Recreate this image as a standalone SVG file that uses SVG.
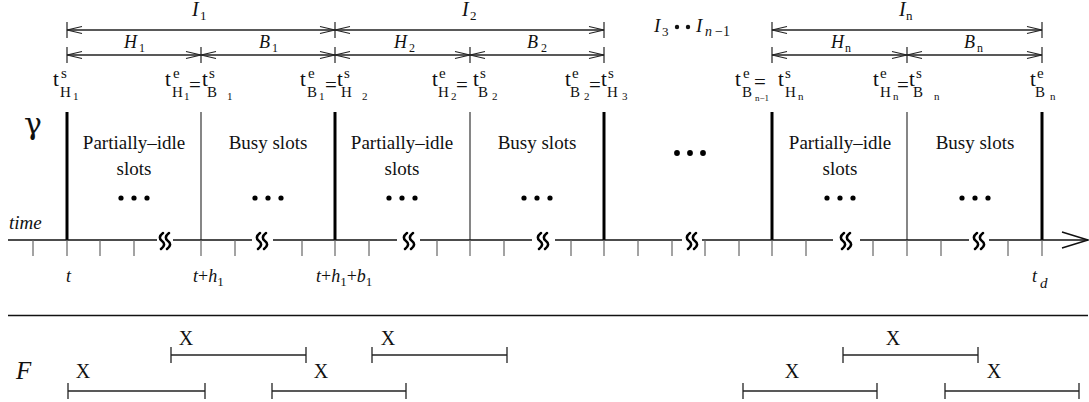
<svg xmlns="http://www.w3.org/2000/svg" width="1089" height="402" viewBox="0 0 1089 402">
<style>
.s{font-family:"Liberation Serif","Times New Roman",serif;fill:#111}
.it{font-style:italic}
.t{font-size:21px}
.sp{font-size:15px}
.sb{font-size:11px}
.lab{font-size:19px;text-anchor:middle}
.dim{stroke:#222;stroke-width:1.3;fill:none}
.tick{stroke:#222;stroke-width:1.2}
.axt{stroke:#666;stroke-width:1.2}
.thick{stroke:#000;stroke-width:3}
.thin{stroke:#444;stroke-width:1.3}
.iv{stroke:#222;stroke-width:1.3}
</style>
<defs>
<marker id="ah" viewBox="-16 -5 17 10" refX="0" refY="0" markerWidth="17" markerHeight="10" markerUnits="userSpaceOnUse" orient="auto-start-reverse">
<path d="M-15,-3.5 L0,0 L-15,3.5" fill="none" stroke="#222" stroke-width="1.1"/>
</marker>
<g id="brk" fill="none" stroke="#000" stroke-width="2.6" stroke-linecap="round">
<path d="M-2,-8 C-6,-5 -6,-2 -3,0 C0,2 0,5 -4,8"/>
<path d="M4,-8 C0,-5 0,-2 3,0 C6,2 6,5 2,8"/>
</g>
</defs>
<rect width="1089" height="402" fill="#fff"/>

<!-- connectors: dimension arrows -->
<g id="connectors">
<line class="dim" x1="67" y1="30" x2="335" y2="30" marker-start="url(#ah)" marker-end="url(#ah)"/>
<line class="dim" x1="335" y1="30" x2="604" y2="30" marker-start="url(#ah)" marker-end="url(#ah)"/>
<line class="dim" x1="772" y1="30" x2="1042" y2="30" marker-start="url(#ah)" marker-end="url(#ah)"/>
<line class="dim" x1="67" y1="55" x2="201" y2="55" marker-start="url(#ah)" marker-end="url(#ah)"/>
<line class="dim" x1="201" y1="55" x2="335" y2="55" marker-start="url(#ah)" marker-end="url(#ah)"/>
<line class="dim" x1="335" y1="55" x2="470" y2="55" marker-start="url(#ah)" marker-end="url(#ah)"/>
<line class="dim" x1="470" y1="55" x2="604" y2="55" marker-start="url(#ah)" marker-end="url(#ah)"/>
<line class="dim" x1="772" y1="55" x2="907" y2="55" marker-start="url(#ah)" marker-end="url(#ah)"/>
<line class="dim" x1="907" y1="55" x2="1042" y2="55" marker-start="url(#ah)" marker-end="url(#ah)"/>
<g class="tick">
<line x1="67" y1="22" x2="67" y2="38"/><line x1="335" y1="22" x2="335" y2="38"/><line x1="604" y1="22" x2="604" y2="38"/><line x1="772" y1="22" x2="772" y2="38"/><line x1="1042" y1="22" x2="1042" y2="38"/>
<line x1="67" y1="47" x2="67" y2="63"/><line x1="201" y1="47" x2="201" y2="63"/><line x1="335" y1="47" x2="335" y2="63"/><line x1="470" y1="47" x2="470" y2="63"/><line x1="604" y1="47" x2="604" y2="63"/><line x1="772" y1="47" x2="772" y2="63"/><line x1="907" y1="47" x2="907" y2="63"/><line x1="1042" y1="47" x2="1042" y2="63"/>
</g>
</g>

<!-- interval labels -->
<g id="intervals" class="s it">
<text x="192" y="16" font-size="20">I<tspan font-size="13" font-style="normal" x="200" y="20">1</tspan></text>
<text x="462" y="16" font-size="20">I<tspan font-size="13" font-style="normal" x="470" y="20">2</tspan></text>
<text x="899" y="16" font-size="20">I<tspan font-size="13" font-style="normal" x="906" y="20">n</tspan></text>
<text x="124" y="48" font-size="18">H<tspan font-size="12" font-style="normal" x="139" y="52">1</tspan></text>
<text x="259" y="48" font-size="18">B<tspan font-size="12" font-style="normal" x="272" y="52">1</tspan></text>
<text x="394" y="48" font-size="18">H<tspan font-size="12" font-style="normal" x="409" y="52">2</tspan></text>
<text x="527" y="48" font-size="18">B<tspan font-size="12" font-style="normal" x="541" y="52">2</tspan></text>
<text x="831" y="48" font-size="18">H<tspan font-size="12" font-style="normal" x="845" y="52">n</tspan></text>
<text x="964" y="48" font-size="18">B<tspan font-size="12" font-style="normal" x="977" y="52">n</tspan></text>
<text x="654" y="32" font-size="19">I<tspan font-size="13" font-style="normal" x="662" y="36">3</tspan></text>
<circle cx="677" cy="27" r="2.2" fill="#111"/><circle cx="688" cy="27" r="2.2" fill="#111"/>
<text x="696" y="32" font-size="19">I<tspan font-size="14" x="705" y="36">n</tspan><tspan font-size="14" font-style="normal" x="715" y="36">−1</tspan></text>
</g>

<!-- time-point labels -->
<g id="timepoints" class="s">
<text class="t" x="53" y="86">t</text><text class="sp" x="61" y="78">s</text><text class="sp" x="60" y="97">H</text><text class="sb" x="73" y="100">1</text>

<text class="t" x="165" y="86">t</text><text class="sp" x="173" y="78">e</text><text class="sp" x="172" y="97">H</text><text class="sb" x="184" y="100">1</text>
<text class="t" x="189" y="92">=</text>
<text class="t" x="202" y="86">t</text><text class="sp" x="209" y="78">s</text><text class="sp" x="207" y="97">B</text><text class="sb" x="227" y="100">1</text>

<text class="t" x="300" y="86">t</text><text class="sp" x="308" y="78">e</text><text class="sp" x="307" y="97">B</text><text class="sb" x="319" y="100">1</text>
<text class="t" x="325" y="92">=</text>
<text class="t" x="337" y="86">t</text><text class="sp" x="344" y="78">s</text><text class="sp" x="341" y="97">H</text><text class="sb" x="362" y="100">2</text>

<text class="t" x="432" y="86">t</text><text class="sp" x="439" y="78">e</text><text class="sp" x="438" y="97">H</text><text class="sb" x="451" y="100">2</text>
<text class="t" x="456" y="92">=</text>
<text class="t" x="473" y="86">t</text><text class="sp" x="480" y="78">s</text><text class="sp" x="478" y="97">B</text><text class="sb" x="492" y="100">2</text>

<text class="t" x="565" y="86">t</text><text class="sp" x="572" y="78">e</text><text class="sp" x="570" y="97">B</text><text class="sb" x="584" y="100">2</text>
<text class="t" x="589" y="92">=</text>
<text class="t" x="601" y="86">t</text><text class="sp" x="608" y="78">s</text><text class="sp" x="607" y="97">H</text><text class="sb" x="622" y="100">3</text>

<text class="t" x="735" y="86">t</text><text class="sp" x="743" y="78">e</text><text class="sp" x="742" y="97">B</text><text x="755" y="101" font-size="9">n−1</text>
<text class="t" x="754" y="89">=</text>
<text class="t" x="778" y="86">t</text><text class="sp" x="785" y="78">s</text><text class="sp" x="785" y="97">H</text><text class="sb" x="798" y="100">n</text>

<text class="t" x="873" y="86">t</text><text class="sp" x="880" y="78">e</text><text class="sp" x="880" y="97">H</text><text class="sb" x="893" y="100">n</text>
<text class="t" x="897" y="92">=</text>
<text class="t" x="909" y="86">t</text><text class="sp" x="916" y="78">s</text><text class="sp" x="913" y="97">B</text><text class="sb" x="934" y="100">n</text>

<text class="t" x="1030" y="86">t</text><text class="sp" x="1037" y="78">e</text><text class="sp" x="1035" y="97">B</text><text class="sb" x="1050" y="100">n</text>
</g>

<!-- gamma row -->
<g id="gamma-row">
<text x="24" y="134" font-size="30" font-family="'DejaVu Serif','Liberation Serif',serif" fill="#111">γ</text>
<line class="thick" x1="67" y1="112" x2="67" y2="240"/>
<line class="thin" x1="201" y1="112" x2="201" y2="240"/>
<line class="thick" x1="335" y1="112" x2="335" y2="240"/>
<line class="thin" x1="470" y1="112" x2="470" y2="240"/>
<line class="thick" x1="604" y1="112" x2="604" y2="240"/>
<line class="thick" x1="772" y1="112" x2="772" y2="240"/>
<line class="thin" x1="907" y1="112" x2="907" y2="240"/>
<line class="thick" x1="1042" y1="112" x2="1042" y2="240"/>
</g>
<g id="slot-h1" class="s lab"><text x="134" y="149">Partially–idle</text><text x="134" y="175">slots</text></g>
<g id="slot-b1" class="s lab"><text x="268" y="149">Busy slots</text></g>
<g id="slot-h2" class="s lab"><text x="402" y="149">Partially–idle</text><text x="402" y="175">slots</text></g>
<g id="slot-b2" class="s lab"><text x="537" y="149">Busy slots</text></g>
<g id="slot-hn" class="s lab"><text x="840" y="149">Partially–idle</text><text x="840" y="175">slots</text></g>
<g id="slot-bn" class="s lab"><text x="975" y="149">Busy slots</text></g>
<g id="dots" fill="#000">
<circle cx="121" cy="198" r="2.6"/><circle cx="134" cy="198" r="2.6"/><circle cx="147" cy="198" r="2.6"/>
<circle cx="255" cy="198" r="2.6"/><circle cx="268" cy="198" r="2.6"/><circle cx="281" cy="198" r="2.6"/>
<circle cx="389" cy="198" r="2.6"/><circle cx="402" cy="198" r="2.6"/><circle cx="415" cy="198" r="2.6"/>
<circle cx="524" cy="198" r="2.6"/><circle cx="537" cy="198" r="2.6"/><circle cx="550" cy="198" r="2.6"/>
<circle cx="827" cy="198" r="2.6"/><circle cx="840" cy="198" r="2.6"/><circle cx="853" cy="198" r="2.6"/>
<circle cx="962" cy="198" r="2.6"/><circle cx="975" cy="198" r="2.6"/><circle cx="988" cy="198" r="2.6"/>
<circle cx="677" cy="153" r="2.9"/><circle cx="690" cy="153" r="2.9"/><circle cx="703" cy="153" r="2.9"/>
</g>

<!-- time axis -->
<g id="time-axis">
<text class="s it" x="9" y="229" font-size="19">time</text>
<g stroke="#111" stroke-width="1.7" fill="none">
<line x1="8" y1="240" x2="157" y2="240"/>
<line x1="173" y1="240" x2="252" y2="240"/>
<line x1="273" y1="240" x2="397" y2="240"/>
<line x1="420" y1="240" x2="532" y2="240"/>
<line x1="555" y1="240" x2="682" y2="240"/>
<line x1="702" y1="240" x2="833" y2="240"/>
<line x1="860" y1="240" x2="969" y2="240"/>
<line x1="989" y1="240" x2="1088" y2="240"/>
<path d="M1062,232 L1088,240 L1062,248" stroke-width="1.5"/>
</g>
<use href="#brk" x="165" y="241"/>
<use href="#brk" x="262" y="241"/>
<use href="#brk" x="409" y="241"/>
<use href="#brk" x="543" y="241"/>
<use href="#brk" x="692" y="241"/>
<use href="#brk" x="846" y="241"/>
<use href="#brk" x="979" y="241"/>
<g class="axt">
<line x1="33" y1="240" x2="33" y2="256"/><line x1="67" y1="240" x2="67" y2="256"/><line x1="100" y1="240" x2="100" y2="256"/><line x1="134" y1="240" x2="134" y2="256"/>
<line x1="201" y1="240" x2="201" y2="256"/><line x1="235" y1="240" x2="235" y2="256"/>
<line x1="302" y1="240" x2="302" y2="256"/><line x1="335" y1="240" x2="335" y2="256"/><line x1="369" y1="240" x2="369" y2="256"/>
<line x1="437" y1="240" x2="437" y2="256"/><line x1="470" y1="240" x2="470" y2="256"/><line x1="504" y1="240" x2="504" y2="256"/>
<line x1="571" y1="240" x2="571" y2="256"/><line x1="604" y1="240" x2="604" y2="256"/><line x1="638" y1="240" x2="638" y2="256"/><line x1="672" y1="240" x2="672" y2="256"/>
<line x1="705" y1="240" x2="705" y2="256"/><line x1="739" y1="240" x2="739" y2="256"/><line x1="772" y1="240" x2="772" y2="256"/><line x1="806" y1="240" x2="806" y2="256"/>
<line x1="873" y1="240" x2="873" y2="256"/><line x1="907" y1="240" x2="907" y2="256"/><line x1="941" y1="240" x2="941" y2="256"/>
<line x1="1008" y1="240" x2="1008" y2="256"/><line x1="1042" y1="240" x2="1042" y2="256"/>
</g>
<g class="s it" font-size="18">
<text x="66" y="282">t</text>
<text x="193" y="282">t<tspan font-style="normal">+</tspan>h<tspan font-style="normal" font-size="13" dy="4">1</tspan></text>
<text x="316" y="282">t<tspan font-style="normal">+</tspan>h<tspan font-style="normal" font-size="13" dy="4">1</tspan><tspan font-style="normal" dy="-4">+</tspan>b<tspan font-style="normal" font-size="13" dy="4">1</tspan></text>
<text x="1032" y="282">t<tspan font-size="15" x="1040" y="288">d</tspan></text>
</g>
</g>

<line id="separator" x1="8" y1="315.5" x2="1088" y2="315.5" stroke="#111" stroke-width="1.3"/>

<!-- F row -->
<g id="f-row">
<text class="s it" x="16" y="379" font-size="25">F</text>
<g class="iv">
<line x1="171" y1="355" x2="306" y2="355"/><line x1="171" y1="347" x2="171" y2="363"/><line x1="306" y1="347" x2="306" y2="363"/>
<line x1="372" y1="355" x2="507" y2="355"/><line x1="372" y1="347" x2="372" y2="363"/><line x1="507" y1="347" x2="507" y2="363"/>
<line x1="68" y1="391" x2="205" y2="391"/><line x1="68" y1="383" x2="68" y2="399"/><line x1="205" y1="383" x2="205" y2="399"/>
<line x1="272" y1="391" x2="406" y2="391"/><line x1="272" y1="383" x2="272" y2="399"/><line x1="406" y1="383" x2="406" y2="399"/>
<line x1="843" y1="355" x2="978" y2="355"/><line x1="843" y1="347" x2="843" y2="363"/><line x1="978" y1="347" x2="978" y2="363"/>
<line x1="743" y1="391" x2="877" y2="391"/><line x1="743" y1="383" x2="743" y2="399"/><line x1="877" y1="383" x2="877" y2="399"/>
<line x1="945" y1="391" x2="1079" y2="391"/><line x1="945" y1="383" x2="945" y2="399"/><line x1="1079" y1="383" x2="1079" y2="399"/>
</g>
<g class="s" font-size="20" text-anchor="middle">
<text x="186" y="345">X</text><text x="388" y="345">X</text><text x="893" y="345">X</text>
<text x="83" y="378">X</text><text x="321" y="378">X</text><text x="792" y="378">X</text><text x="994" y="378">X</text>
</g>
</g>
</svg>
